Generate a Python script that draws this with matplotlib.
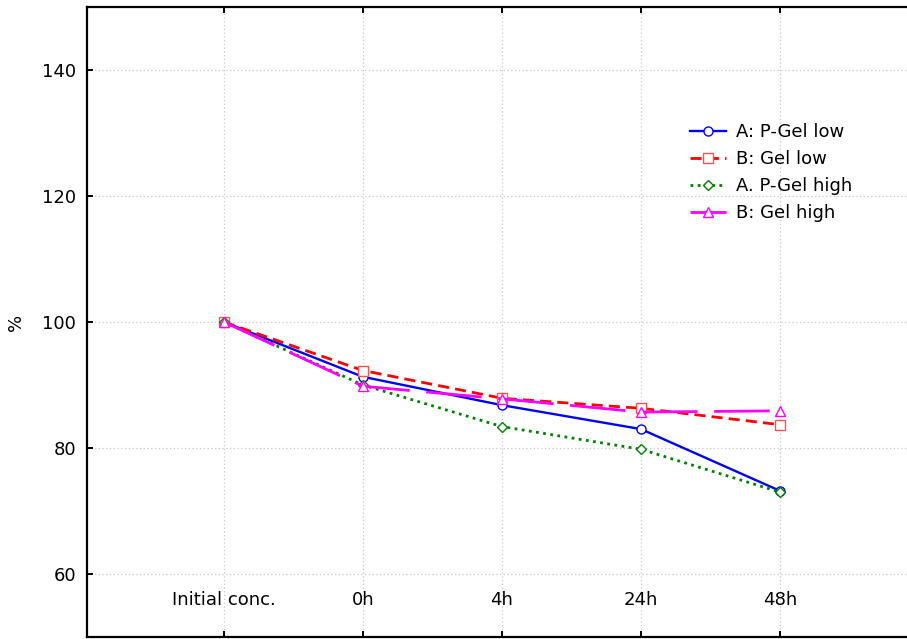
import matplotlib.pyplot as plt
import numpy as np

plt.rcParams['font.family'] = ['DejaVu Sans']

# data
categories = ['Initial conc.', '0h', '4h', '24h', '48h']
a_pgel_low = [100, 91.3, 86.8, 83.0, 73.2]
b_gel_low = [100, 92.3, 87.9, 86.3, 83.7]
a_pgel_high = [100, 90.0, 83.4, 79.8, 73.0]
b_gel_high = [100, 89.8, 87.8, 85.7, 85.9]

x = np.arange(len(categories))

fig = plt.figure(figsize=(9.07, 6.39), dpi=100)
ax = fig.add_axes([87 / 907, 2 / 639, 834 / 907, 630 / 639])

ax.plot(x, a_pgel_low, color='#0000ff', lw=1.7, ls='-', marker='o', ms=6.5,
        mfc='white', mec='#0000ff', mew=1, label='A: P-Gel low')
ax.plot(x, b_gel_low, color='#ff0000', lw=2, ls=(0, (4, 2.2)), marker='s', ms=7,
        mfc='white', mec='#ff5050', mew=1, label='B: Gel low')
ax.plot(x, a_pgel_high, color='#008000', lw=2, ls=(0, (1, 1.6)), marker='D', ms=5,
        mfc='white', mec='#008000', mew=1, label='A. P-Gel high')
ax.plot(x, b_gel_high, color='#ff00ff', lw=2, ls=(0, (20, 6)), marker='^', ms=7,
        mfc='white', mec='#ff00ff', mew=1, label='B: Gel high')

ax.set_xlim(-0.985, 5.015)
ax.set_ylim(50, 150)
ax.set_xticks(x)
ax.set_xticklabels(categories)
ax.set_yticks([60, 80, 100, 120, 140])
ax.set_ylabel('%', fontsize=13, labelpad=12)

ax.grid(True, color='#c8c8c8', ls=(0, (1, 2)), lw=0.9)
ax.set_axisbelow(True)

for side in ['left', 'top', 'bottom']:
    ax.spines[side].set_linewidth(1.6)
ax.spines['right'].set_visible(False)

ax.tick_params(axis='y', direction='in', length=4, width=1.4, labelsize=13, pad=8)
ax.tick_params(axis='x', direction='in', length=4, width=1.4, labelsize=13, pad=-33,
               top=True)

ax.legend(loc='upper left', bbox_to_anchor=(0.723, 0.816), frameon=False,
          fontsize=13, handlelength=2.0, handletextpad=0.55, labelspacing=0.5,
          borderpad=0, borderaxespad=0)

fig.savefig('out.png', dpi=100)
